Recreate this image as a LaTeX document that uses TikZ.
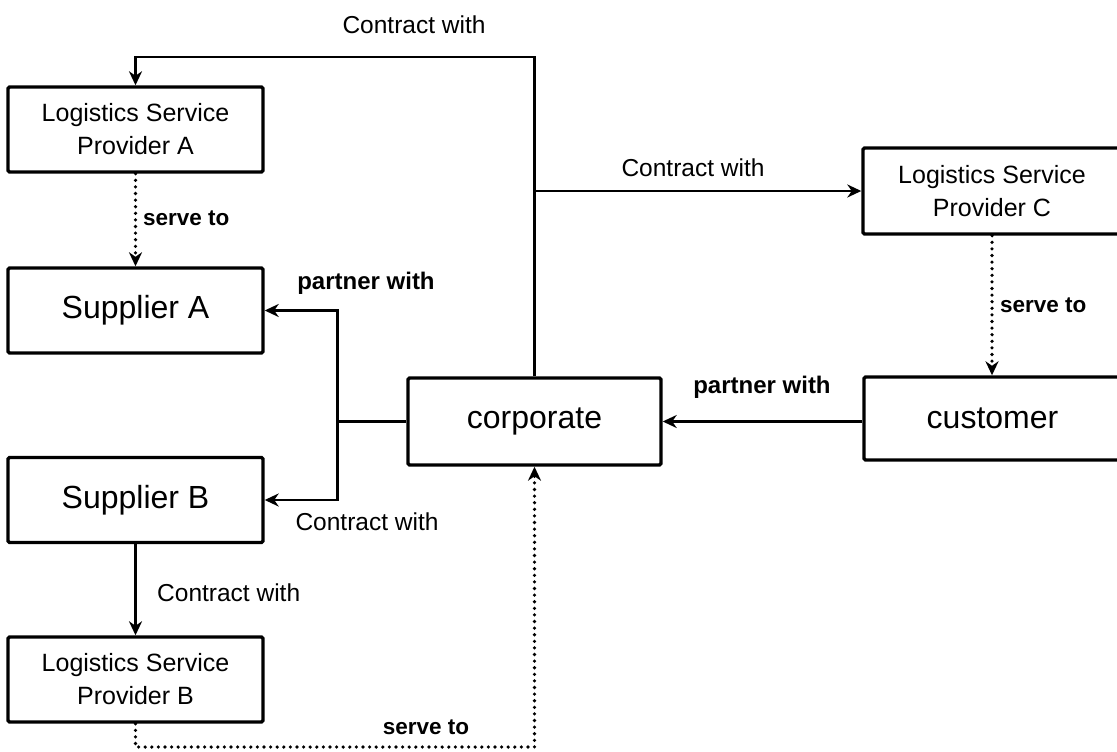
\documentclass[tikz,border=0pt]{standalone}
\usepackage{fontspec}
\setmainfont{Liberation Sans}
\usetikzlibrary{arrows.meta}
\begin{document}
\begin{tikzpicture}[x=1pt,y=-1pt,
  box/.style={draw, line width=3.4pt, rounded corners=1.5pt, inner sep=0pt,
    align=center, minimum width=255pt, minimum height=85pt},
  small/.style={font=\fontsize{25}{33}\selectfont},
  big/.style={font=\fontsize{32}{38}\selectfont},
  conn/.style={line width=2.6pt, -{Stealth[length=14pt,width=13pt,inset=4.5pt]}},
  dots/.style={conn, line width=3.6pt, dash pattern=on 0pt off 6.6pt, line cap=round},
  lbl/.style={font=\fontsize{24.5}{28}\selectfont, inner sep=0pt},
  blbl/.style={font=\fontsize{24}{28}\selectfont\bfseries, inner sep=0pt},
  slbl/.style={font=\fontsize{22.5}{26}\selectfont\bfseries, inner sep=0pt},
]
\clip (0,0) rectangle (1117,752);

% boxes
\node[box,small] (lspA) at (135.5,129.5) {Logistics Service\\Provider A};
\node[box,big] (supA) at (135.5,310.5) {Supplier A};
\node[box,big] (supB) at (135.5,500) {Supplier B};
\node[box,small] (lspB) at (135.5,679.5) {Logistics Service\\Provider B};
\node[box,big,minimum width=253pt,minimum height=87pt] (corp) at (534.5,421.5) {corporate};
\node[box,small,minimum width=258pt,minimum height=86pt] (lspC) at (992,191) {Logistics Service\\Provider C};
\node[box,big,minimum width=257pt,minimum height=83pt] (cust) at (992.5,418.5) {customer};

% routing points
\coordinate (topY) at (300,57);
\coordinate (botY) at (300,747);
\coordinate (junc) at (337.5,421.5);

% connectors
\draw[conn] (corp.north) |- (topY) -| (lspA.north);
\draw[conn] (corp.north |- lspC.west) -- (lspC.west);
\draw[dots] (lspA.south) -- (supA.north);
\draw[line width=2.6pt] (corp.west) -- (junc);
\draw[conn] (junc) |- (supA.east);
\draw[conn] (junc) |- (supB.east);
\draw[conn] (supB.south) -- (lspB.north);
\draw[dots] (lspB.south) |- (botY) -| (corp.south);
\draw[dots] (lspC.south) -- (lspC.south |- cust.north);
\draw[conn] (cust.west |- corp.east) -- (corp.east);

% labels
\node[lbl] (l1) at (414,25) {Contract with};
\node[lbl] (l2) at (693,168) {Contract with};
\node[slbl,anchor=west] (l3) at (143,218) {serve to};
\node[blbl] (l4) at (366,283) {partner with};
\node[lbl] (l5) at (367,522) {Contract with};
\node[lbl,anchor=west] (l6) at (157,593) {Contract with};
\node[slbl] (l7) at (426,727) {serve to};
\node[blbl] (l8) at (762,387) {partner with};
\node[slbl,anchor=west] (l9) at (1000,305) {serve to};
\end{tikzpicture}
\end{document}
